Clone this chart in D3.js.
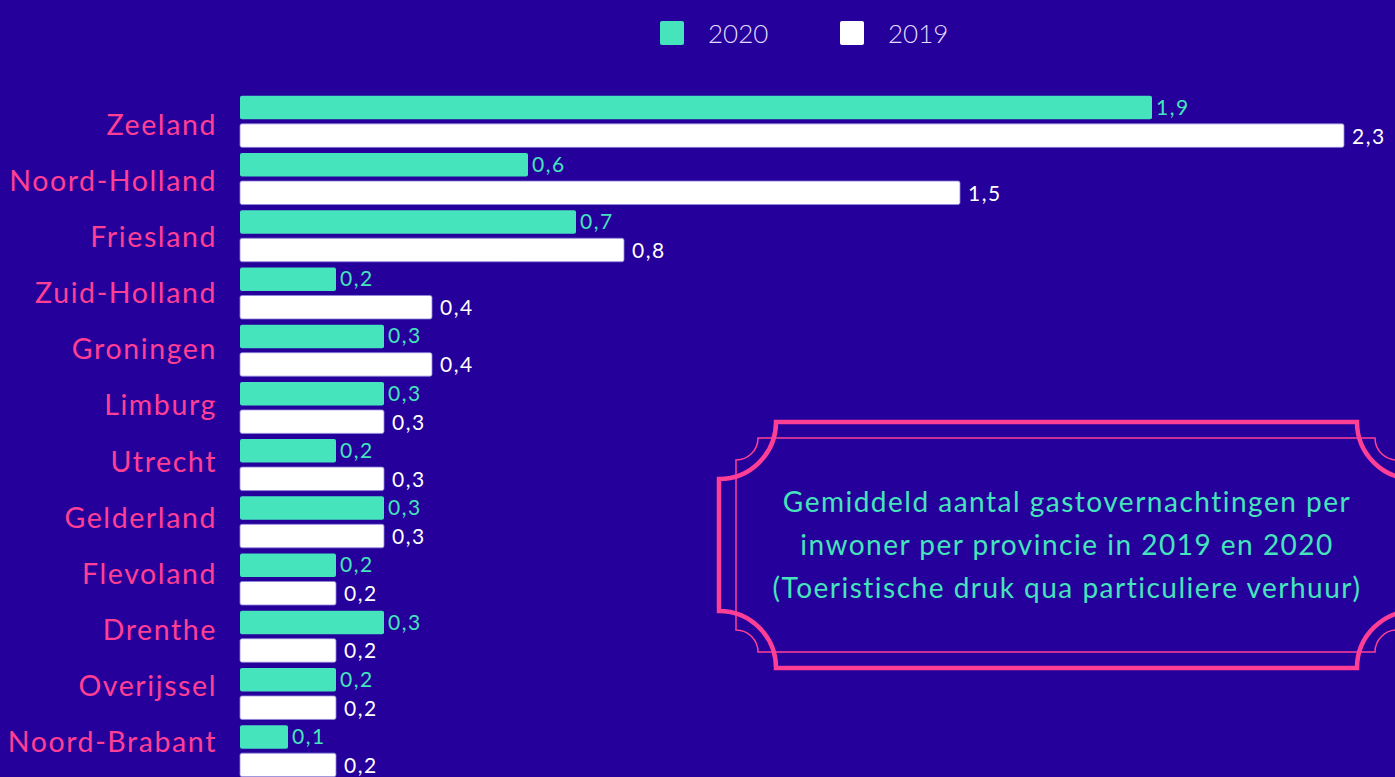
<!DOCTYPE html>
<html>
<head>
<meta charset="utf-8">
<script src="https://cdn.jsdelivr.net/npm/d3@7"></script>
<style>
  html, body { margin: 0; padding: 0; background: #25009a; overflow: hidden; }
  text { font-family: Lato, "Open Sans", sans-serif; }
</style>
</head>
<body>
<div id="chart"></div>
<script>
// size of svg
const width = 1395; const height = 777;

// data
const provinces = ["Zeeland", "Noord-Holland", "Friesland", "Zuid-Holland", "Groningen", "Limburg",
                   "Utrecht", "Gelderland", "Flevoland", "Drenthe", "Overijssel", "Noord-Brabant"];
const values2020 = [1.9, 0.6, 0.7, 0.2, 0.3, 0.3, 0.2, 0.3, 0.2, 0.3, 0.2, 0.1];
const values2019 = [2.3, 1.5, 0.8, 0.4, 0.4, 0.3, 0.3, 0.3, 0.2, 0.2, 0.2, 0.2];
const seriesKeys = ["2020", "2019"];
const noteLines = ["Gemiddeld aantal gastovernachtingen per",
                   "inwoner per provincie in 2019 en 2020",
                   "(Toeristische druk qua particuliere verhuur)"];

const bg = "#25009a";
const pink = "#ff3f95";
const color = d3.scaleOrdinal()
    .domain(seriesKeys)
    .range(["#46e4bd", "#ffffff"]);
const labelColor = d3.scaleOrdinal()
    .domain(seriesKeys)
    .range(["#46e4bd", "#ffffff"]);

const rows = provinces.map(function(p, i){
    return {name: p, "2020": values2020[i], "2019": values2019[i]};
});

let svg = d3.select("#chart")
    .append("svg")
        .attr("width", width)
        .attr("height", height);
svg.append("rect")
    .attr("width", width)
    .attr("height", height)
    .attr("fill", bg);

// scales
const x = d3.scaleLinear()
    .domain([0, 2.5])
    .range([240, 1440]);
const y = d3.scaleBand()
    .domain(provinces)
    .range([93, 779.5])
    .paddingInner(0.1)
    .paddingOuter(0.05);
const ySub = d3.scaleBand()
    .domain(seriesKeys)
    .range([0, y.bandwidth()])
    .paddingInner(0.16);
// province names sit on a slightly tighter grid than the bars
const yLabel = d3.scalePoint()
    .domain(provinces)
    .range([135, 752]);

// province labels
svg.append("g")
    .selectAll("text")
    .data(provinces)
    .join("text")
        .attr("x", 217)
        .attr("y", d => yLabel(d))
        .attr("text-anchor", "end")
        .attr("fill", pink)
        .attr("font-size", 28.5)
        .attr("letter-spacing", 1.6)
        .text(d => d);

// bars
const groups = svg.append("g")
    .selectAll("g")
    .data(rows)
    .join("g")
        .attr("transform", d => `translate(0, ${y(d.name)})`);

groups.selectAll("rect")
    .data(d => seriesKeys.map(k => ({key: k, value: d[k]})))
    .join("rect")
        .attr("x", x(0))
        .attr("y", d => ySub(d.key))
        .attr("width", d => x(d.value) - x(0))
        .attr("height", ySub.bandwidth())
        .attr("rx", 2)
        .attr("fill", d => color(d.key))
        .attr("stroke", "#8f86d8")
        .attr("stroke-opacity", d => d.key === "2019" ? 0.8 : 0)
        .attr("stroke-width", 1);

// value labels
groups.selectAll("text")
    .data(d => seriesKeys.map(k => ({key: k, value: d[k]})))
    .join("text")
        .attr("x", d => x(d.value) + (d.key === "2020" ? 4 : 8))
        .attr("y", d => ySub(d.key) + ySub.bandwidth() / 2 + (d.key === "2020" ? 7 : 8))
        .attr("fill", d => labelColor(d.key))
        .attr("font-size", 21)
        .attr("letter-spacing", 1.5)
        .text(d => d3.format(".1f")(d.value).replace(".", ","));

// legend
const legend = svg.append("g")
    .selectAll("g")
    .data(seriesKeys)
    .join("g")
        .attr("transform", (d, i) => `translate(${660 + i * 180}, 21)`);
legend.append("rect")
    .attr("width", 24)
    .attr("height", 24)
    .attr("rx", 2)
    .attr("fill", d => color(d));
legend.append("text")
    .attr("x", 48)
    .attr("y", 22)
    .attr("fill", "#e4dcff")
    .attr("font-size", 26)
    .attr("font-weight", 300)
    .text(d => d);

// decorative note box
function ticketPath(x0, y0, x1, y1, r) {
    const p = d3.path();
    p.moveTo(x0 + r, y0);
    p.lineTo(x1 - r, y0);
    p.arc(x1, y0, r, Math.PI, Math.PI / 2, true);
    p.lineTo(x1, y1 - r);
    p.arc(x1, y1, r, -Math.PI / 2, Math.PI, true);
    p.lineTo(x0 + r, y1);
    p.arc(x0, y1, r, 0, -Math.PI / 2, true);
    p.lineTo(x0, y0 + r);
    p.arc(x0, y0, r, Math.PI / 2, 0, true);
    p.closePath();
    return p.toString();
}
const note = svg.append("g");
note.append("path")
    .attr("d", ticketPath(719, 422, 1414, 668, 57))
    .attr("fill", "none")
    .attr("stroke", pink)
    .attr("stroke-width", 4.5);
note.append("path")
    .attr("d", ticketPath(736, 438, 1397, 652, 22))
    .attr("fill", "none")
    .attr("stroke", pink)
    .attr("stroke-width", 1.5);
note.append("g")
    .selectAll("text")
    .data(noteLines)
    .join("text")
        .attr("x", 1067)
        .attr("y", (d, i) => 512 + i * 43)
        .attr("text-anchor", "middle")
        .attr("fill", "#46e4bd")
        .attr("font-size", 28)
        .attr("letter-spacing", 1.5)
        .text(d => d);
</script>
</body>
</html>
